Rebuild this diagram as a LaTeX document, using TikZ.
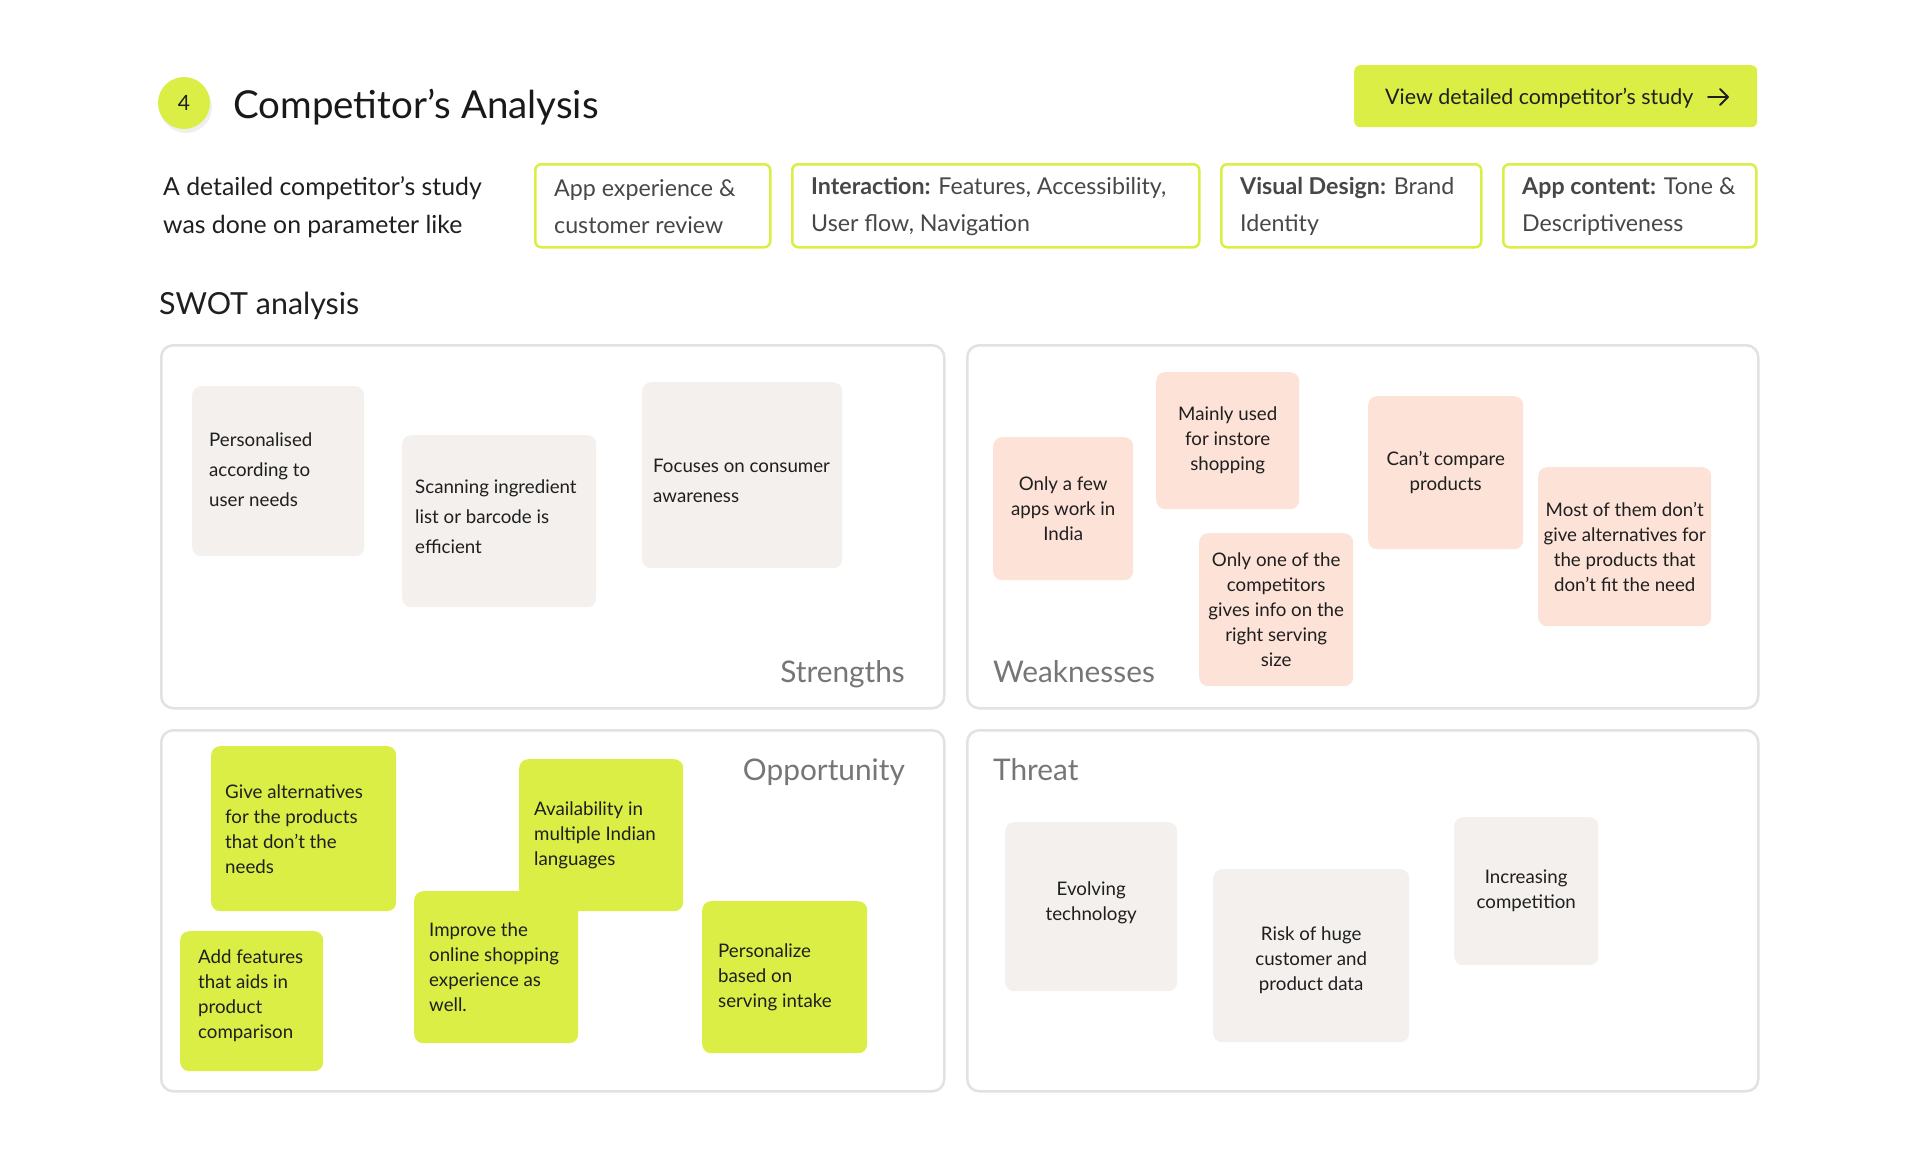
\documentclass[tikz,border=0pt]{standalone}
\usepackage{fontspec}
\setmainfont{Lato}
\usetikzlibrary{shadows}
\definecolor{lime}{HTML}{DAEE45}
\definecolor{cardgrey}{HTML}{F3F0ED}
\definecolor{salmon}{HTML}{FDE2D8}
\definecolor{quadline}{HTML}{E2E2E2}
\definecolor{labgrey}{HTML}{767676}
\definecolor{txt}{HTML}{1F1F1F}
\definecolor{paramtxt}{HTML}{474747}
\begin{document}
\begin{tikzpicture}[x=1pt,y=-1pt,
  quad/.style={draw=quadline, line width=2.5pt, rounded corners=12pt, anchor=north west, inner sep=0},
  card/.style={rounded corners=9pt, anchor=north west, inner sep=0, draw=none,
     font=\fontsize{18.7}{25}\selectfont, text=txt, align=center},
  gcard/.style={card, fill=cardgrey},
  scard/.style={card, fill=salmon},
  lcard/.style={card, fill=lime},
  ltxt/.style={font=\fontsize{18.7}{25}\selectfont, text=txt, inner sep=0, align=left, anchor=west},
  ctxt/.style={font=\fontsize{18.7}{25}\selectfont, text=txt, inner sep=0, align=center},
  stxt/.style={ltxt, font=\fontsize{18.7}{30}\selectfont},
  param/.style={draw=lime, line width=2.5pt, rounded corners=6pt, anchor=north west, inner sep=0, minimum height=83},
  ptxt/.style={font=\fontsize{23.2}{37}\selectfont, text=paramtxt, align=left, anchor=west, inner sep=0},
  qlab/.style={font=\fontsize{29.8}{30}\selectfont, text=labgrey, inner sep=0}
]
\fill[white] (0,0) rectangle (1920,1156);
\useasboundingbox (0,0) rectangle (1920,1156);

% header
\node[circle, fill=lime, minimum size=52, inner sep=0, font=\fontsize{21}{21}\selectfont, text=txt,
  drop shadow={opacity=0.12, shadow xshift=2pt, shadow yshift=-4pt}] (num) at (184,103) {4};
\node[anchor=base west, inner sep=0, font=\fontsize{38.5}{40}\selectfont, text=black!90] (title) at (233,118) {Competitor’s Analysis};

\node[fill=lime, rounded corners=6pt, anchor=north west, minimum width=403, minimum height=62, inner sep=0] (btn) at (1354,65) {};
\node[anchor=base west, inner sep=0, font=\fontsize{21.4}{24}\selectfont, text=txt] (btntxt) at (1385,104) {View detailed competitor’s study};
\coordinate (arrA) at (1708,97);
\coordinate (arrB) at (1728,97);
\draw[line width=1.8pt, line cap=round, line join=round, txt] (arrA) -- (arrB);
\draw[line width=1.8pt, line cap=round, line join=round, txt] ([xshift=-8pt,yshift=8pt]arrB) -- (arrB) -- ([xshift=-8pt,yshift=-8pt]arrB);

\node[anchor=west, inner sep=0, align=left, font=\fontsize{24.8}{38}\selectfont, text=txt] (intro) at (163,207)
  {A detailed competitor’s study\\was done on parameter like};

\node[param, minimum width=235] (p1) at (534,163) {};
\node[ptxt] (p1t) at ([xshift=20pt,yshift=-1pt]p1.west) {App experience \&\\customer review};
\node[param, minimum width=407] (p2) at (791,163) {};
\node[ptxt] (p2t) at ([xshift=20pt,yshift=-1pt]p2.west) {\textbf{Interaction:} Features, Accessibility,\\User flow, Navigation};
\node[param, minimum width=260] (p3) at (1220,163) {};
\node[ptxt] (p3t) at ([xshift=20pt,yshift=-1pt]p3.west) {\textbf{Visual Design:} Brand\\Identity};
\node[param, minimum width=253] (p4) at (1502,163) {};
\node[ptxt] (p4t) at ([xshift=20pt,yshift=-1pt]p4.west) {\textbf{App content:} Tone \&\\Descriptiveness};

\node[anchor=base west, inner sep=0, font=\fontsize{30.4}{32}\selectfont, text=txt] (swot) at (159,314) {SWOT analysis};

% quadrants
\node[quad, minimum width=783, minimum height=363] (qs) at (160,344) {};
\node[quad, minimum width=791, minimum height=363] (qw) at (966,344) {};
\node[quad, minimum width=783, minimum height=361] (qo) at (160,729) {};
\node[quad, minimum width=791, minimum height=361] (qt) at (966,729) {};

\node[qlab, anchor=base east] (ls) at (905,682) {Strengths};
\node[qlab, anchor=base west] (lw) at (993,682) {Weaknesses};
\node[qlab, anchor=base east] (lo) at (905,780) {Opportunity};
\node[qlab, anchor=base west] (lt) at (993,780) {Threat};

% strengths
\node[gcard, minimum width=172, minimum height=170] (s1) at (192,386) {};
\node[stxt] (s1t) at ([xshift=17pt,yshift=2pt]s1.west) {Personalised\\according to\\user needs};
\node[gcard, minimum width=194, minimum height=172] (s2) at (402,435) {};
\node[stxt] (s2t) at ([xshift=13pt,yshift=5pt]s2.west) {Scanning ingredient\\list or barcode is\\efficient};
\node[gcard, minimum width=200, minimum height=186] (s3) at (642,382) {};
\node[stxt] (s3t) at ([xshift=11pt,yshift=-6pt]s3.west) {Focuses on consumer\\awareness};

% weaknesses
\node[scard, minimum width=140, minimum height=143] (w1) at (993,437) {Only a few\\apps work in\\India};
\node[scard, minimum width=143, minimum height=137] (w2) at (1156,372) {Mainly used\\for instore\\shopping};
\node[scard, minimum width=154, minimum height=153] (w3) at (1199,533) {Only one of the\\competitors\\gives info on the\\right serving\\size};
\node[scard, minimum width=155, minimum height=153] (w4) at (1368,396) {Can’t compare\\products};
\node[scard, minimum width=173, minimum height=159] (w5) at (1538,467) {Most of them don’t\\give alternatives for\\the products that\\don’t fit the need};

% opportunity
\node[lcard, minimum width=185, minimum height=165] (o1) at (211,746) {};
\node[ltxt] (o1t) at ([xshift=14pt]o1.west) {Give alternatives\\for the products\\that don’t the\\needs};
\node[lcard, minimum width=164, minimum height=152] (o2) at (519,759) {};
\node[ltxt] (o2t) at ([xshift=15pt]o2.west) {Availability in\\multiple Indian\\languages};
\node[lcard, minimum width=164, minimum height=152] (o3) at (414,891) {};
\node[ltxt] (o3t) at ([xshift=15pt]o3.west) {Improve the\\online shopping\\experience as\\well.};
\node[lcard, minimum width=143, minimum height=140] (o4) at (180,931) {};
\node[ltxt] (o4t) at ([xshift=18pt,yshift=5pt]o4.west) {Add features\\that aids in\\product\\comparison};
\node[lcard, minimum width=165, minimum height=152] (o5) at (702,901) {};
\node[ltxt] (o5t) at ([xshift=16pt]o5.west) {Personalize\\based on\\serving intake};

% threat
\node[gcard, minimum width=172, minimum height=169] (t1) at (1005,822) {};
\node[ctxt] (t1t) at ([yshift=4pt]t1.center) {Evolving\\technology};
\node[gcard, minimum width=196, minimum height=173] (t2) at (1213,869) {};
\node[ctxt] (t2t) at ([yshift=-5pt]t2.center) {Risk of huge\\customer and\\product data};
\node[gcard, minimum width=144, minimum height=148] (t3) at (1454,817) {Increasing\\competition};
\end{tikzpicture}
\end{document}
